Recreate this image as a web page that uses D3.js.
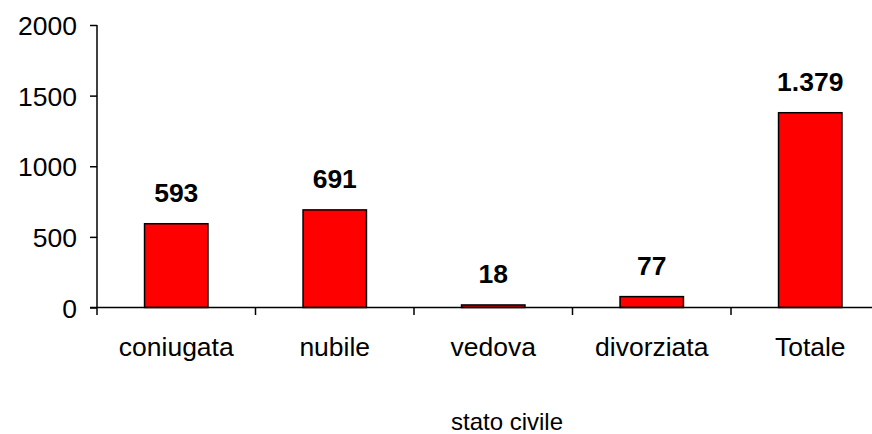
<!DOCTYPE html>
<html><head><meta charset="utf-8">
<script src="https://cdn.jsdelivr.net/npm/d3@7"></script>
<style>body{margin:0;background:#fff}svg{display:block}text{font-family:Arial,"Liberation Sans",sans-serif}</style>
</head><body>
<svg id="c" width="872" height="434"></svg>
<script>
const categories = ["coniugata","nubile","vedova","divorziata","Totale"];
const values = [593, 691, 18, 77, 1379];
const yTicks = [0, 500, 1000, 1500, 2000];
const xTitle = "stato civile";

const svg = d3.select("#c");
const x = d3.scaleBand().domain(categories).range([97, 889.5]).paddingInner(0.6).paddingOuter(0.3);
const y = d3.scaleLinear().domain([0, 2000]).range([307.5, 25]);
const it = d3.formatLocale({decimal:",", thousands:".", grouping:[3], currency:["€",""]});
const fmt = it.format(",d");
const step = x.step();

// bars
svg.selectAll("rect.bar").data(values).join("rect")
  .attr("x",(d,i)=>x(categories[i])).attr("width",x.bandwidth())
  .attr("y",d=>y(d)).attr("height",d=>y(0)-y(d))
  .attr("fill","#ff0000").attr("stroke","#000").attr("stroke-width",1.5);

// y axis
const yAxis = d3.axisLeft(y).tickValues(yTicks).tickSize(7).tickPadding(13).tickFormat(d3.format("d"));
const gy = svg.append("g").attr("transform","translate(97,0)").call(yAxis);
gy.select(".domain").remove();
gy.selectAll("line").attr("stroke","#000").attr("stroke-width",1.5);
gy.selectAll("text").attr("font-size",26.5).attr("fill","#000").attr("dy","0.36em").style("font-family","Arial");
svg.append("line").attr("x1",97).attr("x2",97).attr("y1",y(2000)).attr("y2",315).attr("stroke","#000").attr("stroke-width",1.5);

// x axis
svg.append("line").attr("x1",90).attr("x2",872).attr("y1",y(0)).attr("y2",y(0)).attr("stroke","#000").attr("stroke-width",1.5);
const bounds = categories.map(c=>x(c)-step*0.3+step);
svg.selectAll("line.xt").data(bounds).join("line").attr("class","xt")
  .attr("x1",d=>d).attr("x2",d=>d).attr("y1",y(0)).attr("y2",315).attr("stroke","#000").attr("stroke-width",1.5);
svg.selectAll("text.cat").data(categories).join("text").attr("class","cat")
  .attr("x",d=>x(d)+x.bandwidth()/2).attr("y",356).attr("text-anchor","middle")
  .attr("font-size",26.5).attr("fill","#000").text(d=>d);

// value labels
svg.selectAll("text.val").data(values).join("text").attr("class","val")
  .attr("x",(d,i)=>x(categories[i])+x.bandwidth()/2).attr("y",d=>y(d)-22)
  .attr("text-anchor","middle").attr("font-size",26.5).attr("font-weight","bold").attr("fill","#000")
  .text(d=>fmt(d));

// axis title
svg.append("text").attr("x",507).attr("y",430).attr("text-anchor","middle").attr("font-size",24).attr("fill","#000").text(xTitle);
</script>
</body></html>
